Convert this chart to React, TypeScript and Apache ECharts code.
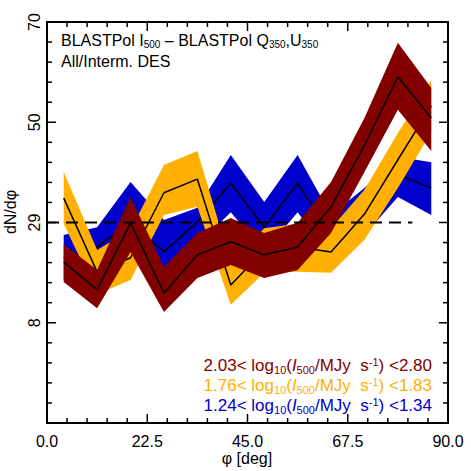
import React, { useEffect, useRef } from "react";
import * as echarts from "echarts";

// bin centres (deg)
const phi = [3.75, 11.25, 18.75, 26.25, 33.75, 41.25, 48.75, 56.25, 63.75, 71.25, 78.75, 86.25];

// 2.03 < log10 I500 < 2.80 (dark red)
const redMid = [20.5, 14.8, 28.6, 14.1, 22.0, 24.7, 22.0, 23.6, 31.9, 44.6, 58.7, 50.2];
const redLow = [16.4, 11.0, 22.6, 10.2, 17.2, 19.9, 17.2, 18.9, 26.5, 39.1, 51.9, 43.4];
const redHigh = [24.2, 18.9, 33.9, 19.5, 26.5, 29.6, 26.5, 28.6, 37.0, 50.2, 65.7, 56.4];

// 1.76 < log10 I500 < 1.83 (orange)
const orangeMid = [33.7, 18.5, 21.4, 34.8, 37.6, 15.8, 23.0, 23.6, 22.6, 30.4, 41.6, 52.7];
const orangeLow = [28.4, 13.9, 16.8, 30.2, 31.9, 11.7, 18.3, 18.5, 18.3, 25.1, 35.8, 47.3];
const orangeHigh = [39.1, 23.0, 27.1, 40.5, 43.4, 20.3, 27.5, 28.4, 27.5, 35.4, 47.1, 58.0];

// 1.24 < log10 I500 < 1.34 (blue)
const blueMid = [21.4, 23.6, 28.8, 22.6, 28.8, 36.8, 27.7, 36.8, 25.9, 31.2, 38.5, 35.8];
const blueLow = [16.8, 18.9, 22.0, 17.8, 24.0, 30.8, 22.6, 30.8, 21.6, 26.1, 33.9, 30.2];
const blueHigh = [26.1, 27.7, 37.0, 29.2, 31.7, 42.6, 32.9, 42.6, 30.2, 35.8, 42.2, 41.1];

// reference (uniform) level, dashed
const refLevel = 28.667;
const refX = [0, 82];

// axes
const xMin = 0;
const xMax = 90;
const xStep = 22.5;
const yMin = -38 / 3;
const yMax = 70;
const yStep = 62 / 3;
const yTickLabels = ["", "8", "29", "50", "70"];
const xTicks = [0, 22.5, 45, 67.5, 90];
const minorSplit = 5;

const RED = "#820000";
const ORANGE = "#FFB000";
const BLUE = "#0000CC";

const FONT = "Liberation Sans";

function bandSeries(name: string, low: number[], high: number[], mid: number[], color: string, z: number) {
  const rows = phi.map((x, i) => [x, low[i], high[i]]);
  const midData = phi.map((x, i) => [x, mid[i]]);
  return [
    {
      type: "custom",
      name: name + "-band",
      data: rows,
      encode: { x: 0, y: [1, 2] },
      silent: true,
      z: z,
      renderItem: (params: any, api: any) => {
        if (params.dataIndex !== 0) return null;
        const upper = rows.map((r) => api.coord([r[0], r[2]]));
        const lower = rows.map((r) => api.coord([r[0], r[1]])).reverse();
        return {
          type: "polygon",
          shape: { points: upper.concat(lower) },
          style: { fill: color, stroke: null },
        };
      },
    },
    {
      type: "line",
      name: name + "-mid",
      data: midData,
      showSymbol: false,
      symbol: "none",
      lineStyle: { color: "#000", width: 1.5 },
      silent: true,
      z: z + 1,
    },
  ];
}

// inward-pointing frame ticks on all four sides, placed through the axis scales
function frameTickSeries() {
  const xs: { v: number; major: boolean }[] = [];
  const nx = Math.round((xMax - xMin) / (xStep / minorSplit));
  for (let k = 0; k <= nx; k++) xs.push({ v: xMin + (k * xStep) / minorSplit, major: k % minorSplit === 0 });
  const ys: { v: number; major: boolean }[] = [];
  const ny = Math.round((yMax - yMin) / (yStep / minorSplit));
  for (let k = 0; k <= ny; k++) ys.push({ v: yMin + (k * yStep) / minorSplit, major: k % minorSplit === 0 });
  const MAJ = 9;
  const MIN = 5;
  return {
    type: "custom",
    name: "frame-ticks",
    data: [[xMin, yMin]],
    silent: true,
    z: 20,
    clip: false,
    renderItem: (params: any, api: any) => {
      if (params.dataIndex !== 0) return null;
      const children: any[] = [];
      const st = { stroke: "#000", lineWidth: 1.5 };
      xs.forEach((t) => {
        const len = t.major ? MAJ : MIN;
        const b = api.coord([t.v, yMin]);
        const tp = api.coord([t.v, yMax]);
        children.push({ type: "line", shape: { x1: b[0], y1: b[1], x2: b[0], y2: b[1] - len }, style: st });
        children.push({ type: "line", shape: { x1: tp[0], y1: tp[1], x2: tp[0], y2: tp[1] + len }, style: st });
      });
      ys.forEach((t) => {
        const len = t.major ? MAJ : MIN;
        const l = api.coord([xMin, t.v]);
        const r = api.coord([xMax, t.v]);
        children.push({ type: "line", shape: { x1: l[0], y1: l[1], x2: l[0] + len, y2: l[1] }, style: st });
        children.push({ type: "line", shape: { x1: r[0], y1: r[1], x2: r[0] - len, y2: r[1] }, style: st });
      });
      return { type: "group", children };
    },
  };
}

export default function App() {
  const ref = useRef<HTMLDivElement>(null);
  useEffect(() => {
    if (!ref.current) return;
    const chart = echarts.init(ref.current, null, { renderer: "svg" });

    const subStyle = (c: string, fs: number) => ({ fontSize: fs, padding: [8, 0, 0, 0], fontFamily: FONT, fill: c, color: c });
    const supStyle = (c: string, fs: number) => ({ fontSize: fs, padding: [0, 0, 8, 0], fontFamily: FONT, fill: c, color: c });

    const legendItems = [
      { text: "2.03< log{sub|10}({it|I}{sub|500}/MJy  s{sup|-1}) <2.80", color: RED, y: 367 },
      { text: "1.76< log{sub|10}({it|I}{sub|500}/MJy  s{sup|-1}) <1.83", color: ORANGE, y: 387 },
      { text: "1.24< log{sub|10}({it|I}{sub|500}/MJy  s{sup|-1}) <1.34", color: BLUE, y: 407 },
    ];

    const option: any = {
      animation: false,
      grid: { left: 47, right: 23, top: 22, bottom: 48, outerBoundsMode: "none" },
      xAxis: [
        {
          type: "value",
          min: xMin,
          max: xMax,
          interval: xStep,
          position: "bottom",
          axisLine: { show: true, onZero: false, lineStyle: { color: "#000", width: 2 } },
          axisTick: { show: false },
          splitLine: { show: false },
          axisLabel: {
            show: true,
            margin: 10,
            color: "#000",
            fontSize: 16,
            fontFamily: FONT,
            formatter: (v: number) => (xTicks.includes(v) ? v.toFixed(1) : ""),
          },
        },
        {
          type: "value",
          min: xMin,
          max: xMax,
          interval: xStep,
          position: "top",
          axisLine: { show: true, onZero: false, lineStyle: { color: "#000", width: 2 } },
          axisTick: { show: false },
          splitLine: { show: false },
          axisLabel: { show: false },
        },
      ],
      yAxis: [
        {
          type: "value",
          min: yMin,
          max: yMax,
          interval: yStep,
          position: "left",
          axisLine: { show: true, onZero: false, lineStyle: { color: "#000", width: 2 } },
          axisTick: { show: false },
          splitLine: { show: false },
          axisLabel: {
            show: true,
            rotate: 90,
            margin: 5,
            color: "#000",
            fontSize: 16,
            fontFamily: FONT,
            formatter: (v: number) => yTickLabels[Math.round((v - yMin) / yStep)] ?? "",
          },
        },
        {
          type: "value",
          min: yMin,
          max: yMax,
          interval: yStep,
          position: "right",
          axisLine: { show: true, onZero: false, lineStyle: { color: "#000", width: 2 } },
          axisTick: { show: false },
          splitLine: { show: false },
          axisLabel: { show: false },
        },
      ],
      series: [
        ...bandSeries("blue", blueLow, blueHigh, blueMid, BLUE, 1),
        ...bandSeries("orange", orangeLow, orangeHigh, orangeMid, ORANGE, 3),
        ...bandSeries("red", redLow, redHigh, redMid, RED, 5),
        {
          type: "line",
          name: "ref",
          data: refX.map((x) => [x, refLevel]),
          showSymbol: false,
          symbol: "none",
          lineStyle: { color: "#000", width: 2, type: [12, 7] },
          silent: true,
          z: 8,
        },
        frameTickSeries(),
      ],
      graphic: [
        {
          type: "text",
          left: 61,
          top: 32,
          style: {
            text: "BLASTPol I{sub|500} – BLASTPol Q{sub|350},U{sub|350}",
            fill: "#000",
            fontSize: 16,
            fontFamily: FONT,
            rich: { sub: subStyle("#000", 10) },
          },
        },
        {
          type: "text",
          left: 61,
          top: 53,
          style: { text: "All/Interm. DES", fill: "#000", fontSize: 16, fontFamily: FONT },
        },
        ...legendItems.map((it) => ({
          type: "text",
          right: 39,
          top: it.y - 11,
          style: {
            text: it.text,
            fill: it.color,
            fontSize: 17,
            fontFamily: FONT,
            rich: {
              sub: subStyle(it.color, 11),
              sup: supStyle(it.color, 11),
              it: { fontStyle: "italic", fontSize: 17, fontFamily: FONT, fill: it.color },
            },
          },
        })),
        {
          type: "text",
          x: 247,
          y: 458,
          style: {
            text: "φ [deg]",
            fill: "#000",
            fontSize: 16,
            fontFamily: FONT,
            align: "center",
            verticalAlign: "middle",
          },
        },
        {
          type: "text",
          x: 10,
          y: 212,
          rotation: Math.PI / 2,
          style: {
            text: "dN/dφ",
            fill: "#000",
            fontSize: 16,
            fontFamily: FONT,
            align: "center",
            verticalAlign: "middle",
          },
        },
      ],
    };
    chart.setOption(option);
    return () => chart.dispose();
  }, []);
  return <div ref={ref} style={{ width: 471, height: 471, position: "absolute", left: 0, top: 0 }} />;
}
